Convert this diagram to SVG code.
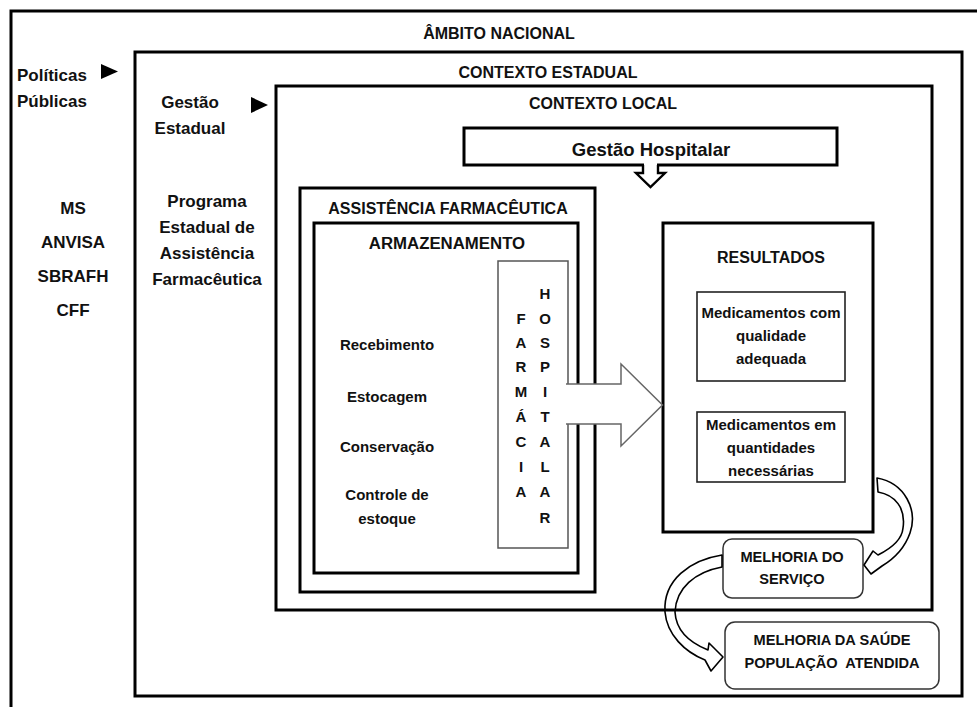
<svg xmlns="http://www.w3.org/2000/svg" width="977" height="707" viewBox="0 0 977 707">
<style>
.box{fill:none;stroke:#000;stroke-width:3}
.thin{fill:none;stroke:#222;stroke-width:1.6}
.gray{fill:#fff;stroke:#555;stroke-width:1.5}
.rnd{fill:#fff;stroke:#333;stroke-width:1.5}
text{font-family:"Liberation Sans",Arial,sans-serif;font-weight:bold;fill:#111}
.c{text-anchor:middle}
.h{font-size:16px}
.l{font-size:17px}
.b{font-size:15px}
.m{font-size:14.6px}
.curve{fill:#fff;stroke:#000;stroke-width:1.6;stroke-linejoin:round}
</style>
<rect width="977" height="707" fill="#fff"/>

<g id="ambito-nacional">
<rect class="box" x="11" y="11" width="1000" height="720"/>
<text class="h c" x="499" y="39">ÂMBITO NACIONAL</text>
</g>

<g id="politicas">
<text class="l" x="17" y="81">Políticas</text>
<text class="l" x="17" y="107">Públicas</text>
<polygon points="101,64 118,71.5 101,79" fill="#000"/>
</g>

<g id="orgaos">
<text class="l c" x="73" y="214">MS</text>
<text class="l c" x="73" y="248">ANVISA</text>
<text class="l c" x="73" y="282">SBRAFH</text>
<text class="l c" x="73" y="316">CFF</text>
</g>

<g id="contexto-estadual">
<rect class="box" x="135" y="52" width="827" height="644"/>
<text class="h c" x="548" y="78">CONTEXTO ESTADUAL</text>
</g>

<g id="gestao-estadual">
<text class="l c" x="190" y="108">Gestão</text>
<text class="l c" x="190" y="134">Estadual</text>
<polygon points="251,97 268,105 251,113" fill="#000"/>
</g>

<g id="programa">
<text class="l c" x="207" y="207">Programa</text>
<text class="l c" x="207" y="233">Estadual de</text>
<text class="l c" x="207" y="259">Assistência</text>
<text class="l c" x="207" y="285">Farmacêutica</text>
</g>

<g id="contexto-local">
<rect class="box" x="276" y="86" width="656" height="524"/>
<text class="h c" x="603" y="109">CONTEXTO LOCAL</text>
</g>

<g id="gestao-hospitalar">
<rect class="box" x="464" y="128" width="373" height="37"/>
<text class="c" style="font-size:18.5px" x="651" y="156">Gestão Hospitalar</text>
<rect x="644" y="162" width="13" height="6" fill="#fff"/>
<path d="M643,165 V173 H636 L650.5,187 L665,173 H658 V165" fill="#fff" stroke="#000" stroke-width="2.4" stroke-linejoin="miter"/>
</g>

<g id="assistencia-farmaceutica">
<rect class="box" x="300" y="188" width="295" height="404"/>
<text class="h c" x="448" y="214">ASSISTÊNCIA FARMACÊUTICA</text>
</g>

<g id="armazenamento">
<rect class="box" x="314" y="223" width="264" height="350"/>
<text class="c" style="font-size:16.8px" x="447" y="249">ARMAZENAMENTO</text>
<text class="b c" x="387" y="350">Recebimento</text>
<text class="b c" x="387" y="402">Estocagem</text>
<text class="b c" x="387" y="452">Conservação</text>
<text class="b c" x="387" y="500">Controle de</text>
<text class="b c" x="387" y="524">estoque</text>
</g>

<g id="farmacia-hospitalar">
<rect class="gray" x="498" y="261" width="70" height="287"/>
<text class="b c" x="521" y="324">F</text>
<text class="b c" x="521" y="348">A</text>
<text class="b c" x="521" y="372">R</text>
<text class="b c" x="521" y="397">M</text>
<text class="b c" x="521" y="422">Á</text>
<text class="b c" x="521" y="447">C</text>
<text class="b c" x="521" y="472">I</text>
<text class="b c" x="521" y="497">A</text>
<text class="b c" x="545" y="299">H</text>
<text class="b c" x="545" y="324">O</text>
<text class="b c" x="545" y="348">S</text>
<text class="b c" x="545" y="372">P</text>
<text class="b c" x="545" y="397">I</text>
<text class="b c" x="545" y="422">T</text>
<text class="b c" x="545" y="447">A</text>
<text class="b c" x="545" y="472">L</text>
<text class="b c" x="545" y="497">A</text>
<text class="b c" x="545" y="523">R</text>
</g>

<g id="resultados">
<rect class="box" x="663" y="223" width="210" height="309"/>
<text class="h c" x="771" y="263">RESULTADOS</text>
<rect class="thin" x="697" y="292" width="148" height="89"/>
<text class="b c" x="771" y="318">Medicamentos com</text>
<text class="b c" x="771" y="341">qualidade</text>
<text class="b c" x="771" y="364">adequada</text>
<rect class="thin" x="697" y="412" width="148" height="70"/>
<text class="b c" x="771" y="430">Medicamentos em</text>
<text class="b c" x="771" y="453">quantidades</text>
<text class="b c" x="771" y="476">necessárias</text>
</g>

<g id="melhoria-servico">
<rect class="rnd" x="723" y="539" width="140" height="59" rx="9"/>
<text class="m c" x="792" y="562">MELHORIA DO</text>
<text class="m c" x="792" y="584">SERVIÇO</text>
</g>

<g id="melhoria-saude">
<rect class="rnd" x="725" y="622" width="214" height="67" rx="10"/>
<text class="m c" x="832" y="645">MELHORIA DA SAÚDE</text>
<text class="m c" x="832" y="668" xml:space="preserve" style="white-space:pre">POPULAÇÃO  ATENDIDA</text>
</g>

<g id="connectors">
<path d="M566,384 H621 V364 L662.5,405 L621,446 V424 H566" fill="#fff" stroke="#666" stroke-width="1.5" stroke-linejoin="miter"/>
<path class="curve" d="M877,478 C905,483 918,510 910,533 C904,550 892,560 882,566 L871,574 L864,565 L873,551 L878,555 C892,548 902,540 903,528 C906,508 895,495 878,492 Z"/>
<path class="curve" style="fill:none" d="M722,555 C690,560 663,580 665,612 C667,635 685,652 705,660 L711,671 L723,657 L709,643 L708,650 C688,642 676,630 675,612 C676,588 695,572 722,567 Z"/>
</g>
</svg>
